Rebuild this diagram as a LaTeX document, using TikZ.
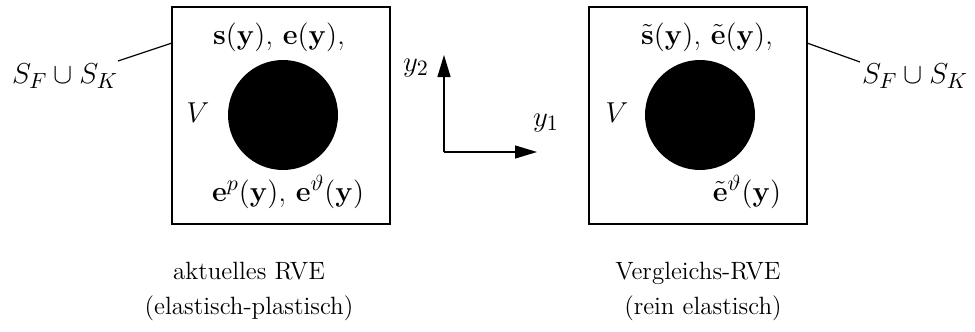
\documentclass[tikz,border=0pt]{standalone}
\usepackage{amsmath}
\usetikzlibrary{arrows.meta}
\begin{document}
\begin{tikzpicture}[x=0.5pt,y=-0.5pt,
  every node/.style={font=\fontsize{15.8}{18}\selectfont, inner sep=0pt},
  caption/.style={font=\fontsize{12.5}{15}\selectfont},
  rve/.style={draw, line width=0.6pt, minimum width=109pt, minimum height=108.5pt},
  incl/.style={circle, fill=black, minimum size=55pt},
  thin line/.style={line width=0.6pt},
  axis/.style={line width=0.6pt, -{Triangle[length=11pt,width=6.5pt]}}]
\useasboundingbox (0,0) rectangle (975,332);
% left RVE
\node[rve] (boxL) at (281,115.5) {};
\node[incl] (inclL) at (283,115) {};
\node (sL) at (279,37) {$\mathbf{s}(\mathbf{y})$, $\mathbf{e}(\mathbf{y})$,};
\node (VL) at (198,113) {$V$};
\node (eL) at (288,192) {$\mathbf{e}^p(\mathbf{y})$, $\mathbf{e}^\vartheta(\mathbf{y})$};
\node (SFL) at (65,76) {$S_F\cup S_K$};
\coordinate (lineL) at (118,61);
\coordinate (hitL) at (172,43);
\draw[thin line] (lineL) -- (hitL);
% axes
\coordinate (O) at (444,152);
\coordinate (Y2) at (444,55);
\coordinate (Y1) at (537,152);
\draw[axis] (O) -- (Y2);
\draw[axis] (O) -- (Y1);
\node (y2) at (416,68) {$y_2$};
\node (y1) at (546,123) {$y_1$};
% right RVE
\node[rve] (boxR) at (698,115.5) {};
\node[incl] (inclR) at (700,115) {};
\node (sR) at (707,37) {$\tilde{\mathbf{s}}(\mathbf{y})$, $\tilde{\mathbf{e}}(\mathbf{y})$,};
\node (VR) at (617,113) {$V$};
\node (eR) at (747,192) {$\tilde{\mathbf{e}}^\vartheta(\mathbf{y})$};
\node (SFR) at (915,76) {$S_F\cup S_K$};
\coordinate (hitR) at (807,43);
\coordinate (lineR) at (860,62);
\draw[thin line] (hitR) -- (lineR);
% captions
\node[caption, anchor=base] (capL1) at (249,279) {aktuelles RVE};
\node[caption, anchor=base] (capL2) at (249,314) {(elastisch-plastisch)};
\node[caption, anchor=base east] (capR1) at (781,279) {Vergleichs-RVE};
\node[caption, anchor=base east] (capR2) at (782,314) {(rein elastisch)};
\end{tikzpicture}
\end{document}
